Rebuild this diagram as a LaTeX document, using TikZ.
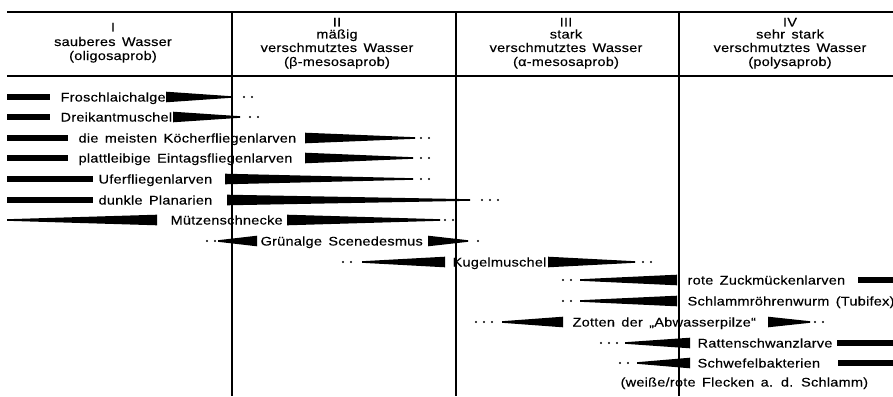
\documentclass[tikz,border=0pt]{standalone}
\usepackage{fontspec}
\setmainfont{Liberation Sans}[FakeStretch=1.16,LetterSpace=2,WordSpace=1.5,FakeBold=0.3]

\begin{document}
\begin{tikzpicture}[x=1pt, y=-1pt, line width=1.2pt,
		font=\fontsize{12.5}{13.2}\selectfont,
		lbl/.style={anchor=west, inner sep=0pt, text height=9pt, text depth=0pt},
		kopf/.style={inner sep=0pt, text height=9pt, text depth=0pt}]
				\def\keil#1#2#3{\fill (#1,#3-5.3) -- (#2,#3-0.8) -- (#2,#3+0.8) -- (#1,#3+5.3) -- cycle;}
				\def\balken#1#2#3{\fill (#1,#3-3.3) rectangle (#2,#3+3.3);}
				\def\pkte#1#2#3{\foreach \i in {1,...,#2} \fill (#1+8*\i-8,#3) circle (1.1);}
				\useasboundingbox (0,0) rectangle (893,396);
				% Tabellenkopf
				\coordinate (obenL)  at (7,12);
				\coordinate (obenR)  at (893,12);
				\coordinate (untenL) at (7,76);
				\coordinate (untenR) at (893,76);
				\draw (obenL) -- (obenR);
				\draw (untenL) -- (untenR);
				\draw (232,12) -- (232,396);
				\draw (456,12) -- (456,396);
				\draw (679,12) -- (679,396);
				\node[kopf] (kopfI)   at (113,27)   {I};
				\node[kopf] (kopfIa)  at (113,41.5) {sauberes Wasser};
				\node[kopf] (kopfIb)  at (113,55.5) {(oligosaprob)};
				\node[kopf] (kopfII)  at (337,22)   {II};
				\node[kopf] (kopfIIa) at (337,34)   {mäßig};
				\node[kopf] (kopfIIb) at (337,47.5) {verschmutztes Wasser};
				\node[kopf] (kopfIIc) at (337,61.5) {(β-mesosaprob)};
				\node[kopf] (kopfIII)  at (566,22)   {III};
				\node[kopf] (kopfIIIa) at (566,34)   {stark};
				\node[kopf] (kopfIIIb) at (566,47.5) {verschmutztes Wasser};
				\node[kopf] (kopfIIIc) at (566,61.5) {(α-mesosaprob)};
				\node[kopf] (kopfIV)  at (790,22)   {IV};
				\node[kopf] (kopfIVa) at (790,34)   {sehr stark};
				\node[kopf] (kopfIVb) at (790,47.5) {verschmutztes Wasser};
				\node[kopf] (kopfIVc) at (790,61.5) {(polysaprob)};
				% Zeilen
				\balken{7}{50}{97}
				\node[lbl] (frosch) at (60,97) {Froschlaichalge};
				\keil{166}{231}{97}
				\pkte{244}{2}{97}
				\balken{7}{50}{117}
				\node[lbl] (dreikant) at (60,117) {Dreikantmuschel};
				\keil{173}{240}{117}
				\pkte{250}{2}{117}
				\balken{7}{68}{138}
				\node[lbl] (koecher) at (78,138) {die meisten Köcherfliegenlarven};
				\keil{305}{415}{138}
				\pkte{421}{2}{138}
				\balken{7}{68}{158}
				\node[lbl] (eintag) at (78,158) {plattleibige Eintagsfliegenlarven};
				\keil{305}{413}{158}
				\pkte{421}{2}{158}
				\balken{7}{93}{179}
				\node[lbl] (ufer) at (98,179) {Uferfliegenlarven};
				\keil{225}{413}{179}
				\pkte{421}{2}{179}
				\balken{7}{93}{200}
				\node[lbl] (planarien) at (98,200) {dunkle Planarien};
				\keil{227}{470}{200}
				\pkte{482}{3}{200}
				\keil{157}{7}{220}
				\node[lbl] (muetze) at (170,220) {Mützenschnecke};
				\keil{287}{440}{220}
				\pkte{445}{2}{220}
				\pkte{207}{2}{241}
				\keil{257}{218}{241}
				\node[lbl] (gruenalge) at (260,241) {Grünalge Scenedesmus};
				\keil{428}{468}{241}
				\pkte{478}{1}{241}
				\pkte{343}{2}{262}
				\keil{445}{362}{262}
				\node[lbl] (kugel) at (452,262) {Kugelmuschel};
				\keil{548}{635}{262}
				\pkte{643}{2}{262}
				\pkte{563}{2}{280}
				\keil{677}{580}{280}
				\node[lbl] (zuck) at (687,280) {rote Zuckmückenlarven};
				\balken{858}{893}{280}
				\pkte{563}{2}{301}
				\keil{677}{580}{301}
				\node[lbl] (tubifex) at (687,301) {Schlammröhrenwurm (Tubifex)};
				\pkte{476}{3}{322}
				\keil{563}{502}{322}
				\node[lbl] (zotten) at (572,322) {Zotten der „Abwasserpilze“};
				\keil{768}{810}{322}
				\pkte{815}{2}{322}
				\pkte{601}{3}{343}
				\keil{690}{625}{343}
				\node[lbl] (ratten) at (697,343) {Rattenschwanzlarve};
				\balken{837}{893}{343}
				\pkte{620}{2}{363}
				\keil{690}{637}{363}
				\node[lbl] (schwefel) at (697,363) {Schwefelbakterien};
				\balken{838}{893}{363}
				\node[lbl] (flecken) at (620,382) {(weiße/rote Flecken a. d. Schlamm)};
		\end{tikzpicture}
\end{document}
